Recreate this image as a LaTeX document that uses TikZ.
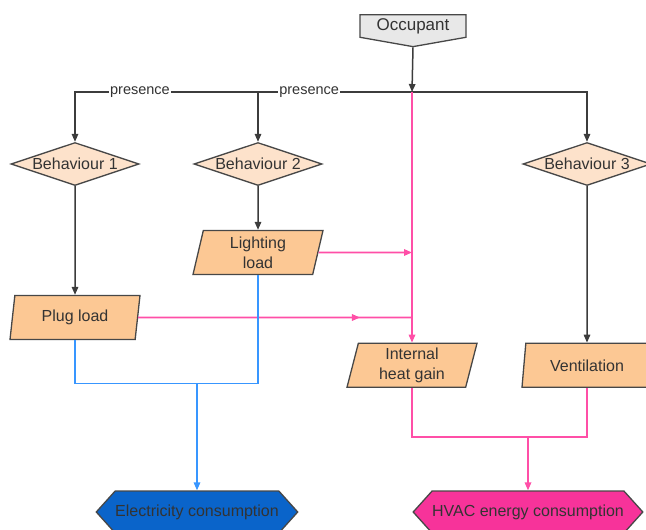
\documentclass[tikz,border=0pt]{standalone}
\usepackage{fontspec}
\setmainfont{Liberation Sans}
\usetikzlibrary{shapes.geometric,shapes.symbols,arrows.meta,decorations.markings}
\definecolor{lnk}{HTML}{3C3C3C}
\definecolor{pnk}{HTML}{FF4FA7}
\definecolor{blu}{HTML}{3896FF}
\definecolor{txt}{HTML}{333333}
\definecolor{bdr}{HTML}{474747}
\definecolor{dfill}{HTML}{FDE2CB}
\definecolor{pfill}{HTML}{FCC894}
\definecolor{ofill}{HTML}{E8E8E8}
\definecolor{efill}{HTML}{0A64CA}
\definecolor{hfill}{HTML}{F7339A}
\tikzset{
  base/.style={draw=bdr, line width=1.3pt, text=txt, font=\fontsize{16}{20}\selectfont, inner sep=0pt},
  occbox/.style={base, signal, signal to=south, signal pointer angle=160, fill=ofill, minimum width=106pt, minimum height=29pt, font=\fontsize{17}{20}\selectfont},
  decide/.style={base, diamond, aspect=3.3, fill=dfill, minimum width=128pt, minimum height=43pt},
  dataio/.style={base, trapezium, trapezium left angle=72, trapezium right angle=108, trapezium stretches body, fill=pfill, minimum width=130pt, minimum height=44pt, align=center},
  hexa/.style={base, signal, signal to=west and east, signal pointer angle=96, minimum height=42pt},
  tip/.style={-{Triangle[length=8pt,width=6.5pt]}},
  dark/.style={draw=lnk, line width=1.5pt},
  pink/.style={draw=pnk, line width=1.6pt},
  blue/.style={draw=blu, line width=1.6pt},
  lbl/.style={fill=white, text=txt, inner sep=1pt, font=\fontsize{14.5}{16}\selectfont},
  midtip/.style={postaction={decorate}, decoration={markings, mark=at position #1 with {\arrow{Triangle[length=8pt,width=6.5pt]}}}}
}
\begin{document}
\begin{tikzpicture}[x=1pt,y=-1pt]
\useasboundingbox (0,0) rectangle (646,530);
\clip (0,0) rectangle (646,530);

\node[occbox] (occ) at (413,26) {Occupant};
\coordinate (j) at (412,92);

\node[decide] (b1) at (75,164) {Behaviour 1};
\node[decide] (b2) at (258,164) {Behaviour 2};
\node[decide] (b3) at (587,164) {Behaviour 3};

\node[dataio] (light) at (258,252.5) {Lighting\\load};
\node[dataio] (plug) at (75,317.5) {Plug load};
\node[dataio] (ihg) at (412,365.3) {Internal\\heat gain};
\node[dataio] (vent) at (587,365.3) {Ventilation};

\node[hexa, fill=efill, minimum width=200pt] (elec) at (197,512) {Electricity consumption};
\node[hexa, fill=hfill, minimum width=221pt] (hvac) at (528,512) {HVAC energy consumption};

\coordinate (jl) at (412,252.5);
\coordinate (jp) at (412,317.5);
\coordinate (ej) at (197,383.5);
\coordinate (hj) at (528,437);

% occupant to branches
\draw[dark, tip] (occ.south) -- (j);
\draw[dark, tip] (j) -| node[lbl, pos=0.4036] {presence} (b1.north);
\draw[dark, tip] (j) -| node[lbl, pos=0.334] {presence} (b2.north);
\draw[dark, tip] (j) -| (b3.north);

\draw[dark, tip] (b1.south) -- (plug.north);
\draw[dark, tip] (b2.south) -- (light.north);
\draw[dark, tip] (b3.south) -- (vent.north);

% heat gain
\draw[pink, tip] (j) -- (ihg.north);
\draw[pink, tip] (light.east) -- (jl);
\draw[pink, midtip=0.81] (plug.east) -- (jp);

% electricity
\draw[blue] (plug.south) |- (ej);
\draw[blue] (light.south) |- (ej);
\draw[blue, tip] (ej) -- (elec.north);

% HVAC
\draw[pink] (ihg.south) |- (hj);
\draw[pink] (vent.south) |- (hj);
\draw[pink, tip] (hj) -- (hvac.north);
\end{tikzpicture}
\end{document}
